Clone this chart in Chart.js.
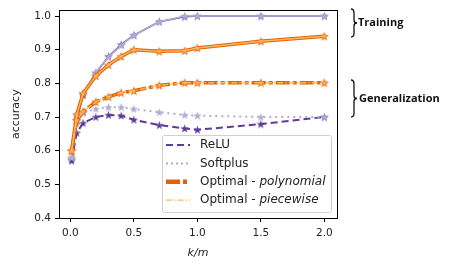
<!DOCTYPE html>
<html>
<head>
<meta charset="utf-8">
<script src="https://cdn.jsdelivr.net/npm/chart.js@4"></script>
<style>
  html, body { margin: 0; padding: 0; background: #fff; }
  canvas { display: block; }
</style>
</head>
<body>
<canvas id="chart" width="449" height="267"></canvas>
<script>
const kOverM = [0.01, 0.05, 0.1, 0.2, 0.3, 0.4, 0.5, 0.7, 0.9, 1.0, 1.5, 2.0]

// training accuracy
const reluTrain      = [0.575, 0.69, 0.765, 0.83, 0.88, 0.915, 0.943, 0.983, 0.998, 1.0, 1.0, 1.0]
const softplusTrain  = [0.58, 0.70, 0.77, 0.833, 0.878, 0.913, 0.943, 0.983, 1.0, 1.0, 1.0, 1.0]
const polyTrain      = [0.60, 0.707, 0.77, 0.822, 0.855, 0.88, 0.90, 0.895, 0.897, 0.905, 0.925, 0.94]
const pieceTrain     = [0.60, 0.707, 0.77, 0.822, 0.855, 0.88, 0.90, 0.895, 0.897, 0.905, 0.925, 0.94]

// generalization accuracy
const reluGen        = [0.57, 0.653, 0.682, 0.70, 0.706, 0.704, 0.692, 0.676, 0.666, 0.662, 0.679, 0.70]
const softplusGen    = [0.58, 0.68, 0.712, 0.724, 0.729, 0.729, 0.724, 0.714, 0.706, 0.704, 0.70, 0.70]
const polyGen        = [0.60, 0.69, 0.716, 0.745, 0.76, 0.772, 0.778, 0.794, 0.802, 0.802, 0.802, 0.802]
const pieceGen       = [0.60, 0.69, 0.716, 0.745, 0.76, 0.772, 0.778, 0.794, 0.802, 0.802, 0.802, 0.802]

const xTicks = [0.0, 0.5, 1.0, 1.5, 2.0]
const yTicks = [0.4, 0.5, 0.6, 0.7, 0.8, 0.9, 1.0]

const DARK_PURPLE = '#5e3c99'
const LIGHT_PURPLE = '#b2abd2'
const DARK_ORANGE = '#e66101'
const LIGHT_ORANGE = '#fdb863'

function starImage(color, size) {
  const c = document.createElement('canvas')
  c.width = size
  c.height = size
  const g = c.getContext('2d')
  const cx = size / 2, cy = size / 2 + size * 0.04
  const ro = size / 2, ri = ro * 0.4
  g.beginPath()
  for (let i = 0; i < 10; i++) {
    const r = i % 2 ? ri : ro
    const a = -Math.PI / 2 + i * Math.PI / 5
    g.lineTo(cx + r * Math.cos(a), cy + r * Math.sin(a))
  }
  g.closePath()
  g.fillStyle = color
  g.fill()
  return c
}

const pts = (ys) => kOverM.map((x, i) => ({ x: x, y: ys[i] }))

// lower order = drawn on top
function series(ys, color, width, dash, star, order) {
  return {
    data: pts(ys),
    borderColor: color,
    backgroundColor: color,
    borderWidth: width,
    borderDash: dash,
    pointStyle: star,
    pointRadius: 4,
    tension: 0,
    order: order
  }
}

const datasets = [
  series(reluTrain, DARK_PURPLE, 1.6, [], starImage(DARK_PURPLE, 9), 3),
  series(softplusTrain, LIGHT_PURPLE, 1.6, [], starImage(LIGHT_PURPLE, 9), 2),
  series(polyTrain, DARK_ORANGE, 3.5, [], starImage(DARK_ORANGE, 10), 1),
  series(pieceTrain, LIGHT_ORANGE, 1.4, [], starImage(LIGHT_ORANGE, 6), 0),
  series(reluGen, DARK_PURPLE, 2, [7, 4], starImage(DARK_PURPLE, 9), 3),
  series(softplusGen, LIGHT_PURPLE, 2, [2, 4], starImage(LIGHT_PURPLE, 9), 2),
  series(polyGen, DARK_ORANGE, 3.5, [14, 3, 4, 3], starImage(DARK_ORANGE, 10), 1),
  series(pieceGen, LIGHT_ORANGE, 1.4, [6, 2, 1.5, 2], starImage(LIGHT_ORANGE, 6), 0)
]

const legendItems = [
  { color: DARK_PURPLE, width: 2, dash: [7, 4], label: ['ReLU', ''] },
  { color: LIGHT_PURPLE, width: 2, dash: [2, 3], label: ['Softplus', ''] },
  { color: DARK_ORANGE, width: 4.5, dash: [14, 3, 4, 3], label: ['Optimal - ', 'polynomial'] },
  { color: LIGHT_ORANGE, width: 1.3, dash: [6, 2, 1.5, 2], label: ['Optimal - ', 'piecewise'] }
]

const FONT = '"DejaVu Sans", sans-serif'

const extras = {
  id: 'extras',
  afterDraw(chart) {
    const { ctx, chartArea: a } = chart
    ctx.save()
    // full frame
    ctx.strokeStyle = '#000'
    ctx.lineWidth = 1
    ctx.strokeRect(Math.round(a.left) + 0.5, Math.round(a.top) + 0.5,
      Math.round(a.right - a.left), Math.round(a.bottom - a.top))

    // legend
    const bx = 162, by = 135, bw = 169, bh = 77
    ctx.fillStyle = 'rgba(255,255,255,0.85)'
    ctx.strokeStyle = '#d0d0d0'
    ctx.lineWidth = 1
    ctx.beginPath()
    ctx.roundRect(bx + 0.5, by + 0.5, bw, bh, 2)
    ctx.fill()
    ctx.stroke()
    ctx.textBaseline = 'middle'
    legendItems.forEach((it, i) => {
      const y = 145 + i * 18.4
      ctx.strokeStyle = it.color
      ctx.lineWidth = it.width
      ctx.setLineDash(it.dash)
      ctx.beginPath()
      ctx.moveTo(166, y)
      ctx.lineTo(190, y)
      ctx.stroke()
      ctx.setLineDash([])
      ctx.fillStyle = '#222'
      ctx.font = '12px ' + FONT
      ctx.fillText(it.label[0], 200, y)
      const w = ctx.measureText(it.label[0]).width
      ctx.font = 'italic 12px ' + FONT
      ctx.fillText(it.label[1], 200 + w, y)
    })

    // braces and group labels
    const brace = (x, y0, y1) => {
      const m = (y0 + y1) / 2
      ctx.beginPath()
      ctx.moveTo(x, y0)
      ctx.quadraticCurveTo(x + 3, y0, x + 3, y0 + 4)
      ctx.lineTo(x + 3, m - 3)
      ctx.quadraticCurveTo(x + 3, m, x + 6, m)
      ctx.quadraticCurveTo(x + 3, m, x + 3, m + 3)
      ctx.lineTo(x + 3, y1 - 4)
      ctx.quadraticCurveTo(x + 3, y1, x, y1)
      ctx.stroke()
    }
    ctx.strokeStyle = '#111'
    ctx.lineWidth = 1.3
    brace(351, 9, 37)
    brace(351, 80, 117)
    ctx.fillStyle = '#111'
    ctx.font = 'bold 11px "Open Sans", sans-serif'
    ctx.textBaseline = 'middle'
    ctx.fillText('Training', 358, 23)
    ctx.fillText('Generalization', 359, 98.5)
    ctx.restore()
  }
}

new Chart(document.getElementById('chart'), {
  type: 'line',
  data: { datasets: datasets },
  options: {
    responsive: false,
    devicePixelRatio: 1,
    animation: false,
    layout: { padding: { left: 0, right: 112, top: 7, bottom: 0 } },
    plugins: { legend: { display: false }, tooltip: { enabled: false } },
    scales: {
      x: {
        type: 'linear',
        min: -0.0895,
        max: 2.0995,
        afterBuildTicks: (s) => { s.ticks = xTicks.map(v => ({ value: v })) },
        afterFit: (s) => { s.height = 49 },
        grid: { drawOnChartArea: false, drawTicks: true, tickLength: 4, tickColor: '#000' },
        border: { display: false },
        ticks: { color: '#222', padding: 5, maxRotation: 0, font: { family: FONT, size: 10.5 },
          callback: (v) => v.toFixed(1) },
        title: { display: true, text: 'k/m', color: '#222',
          font: { family: FONT, size: 11, style: 'italic' }, padding: { top: 0, bottom: 7 } }
      },
      y: {
        type: 'linear',
        min: 0.4,
        max: 1.017,
        afterBuildTicks: (s) => { s.ticks = yTicks.map(v => ({ value: v })) },
        afterFit: (s) => { s.width = 59 },
        grid: { drawOnChartArea: false, drawTicks: true, tickLength: 4, tickColor: '#000' },
        border: { display: false },
        ticks: { color: '#222', padding: 4, font: { family: FONT, size: 10.5 },
          callback: (v) => v.toFixed(1) },
        title: { display: true, text: 'accuracy', color: '#222',
          font: { family: FONT, size: 11 }, padding: { top: 10, bottom: 0 } }
      }
    }
  },
  plugins: [extras]
})
</script>
</body>
</html>
